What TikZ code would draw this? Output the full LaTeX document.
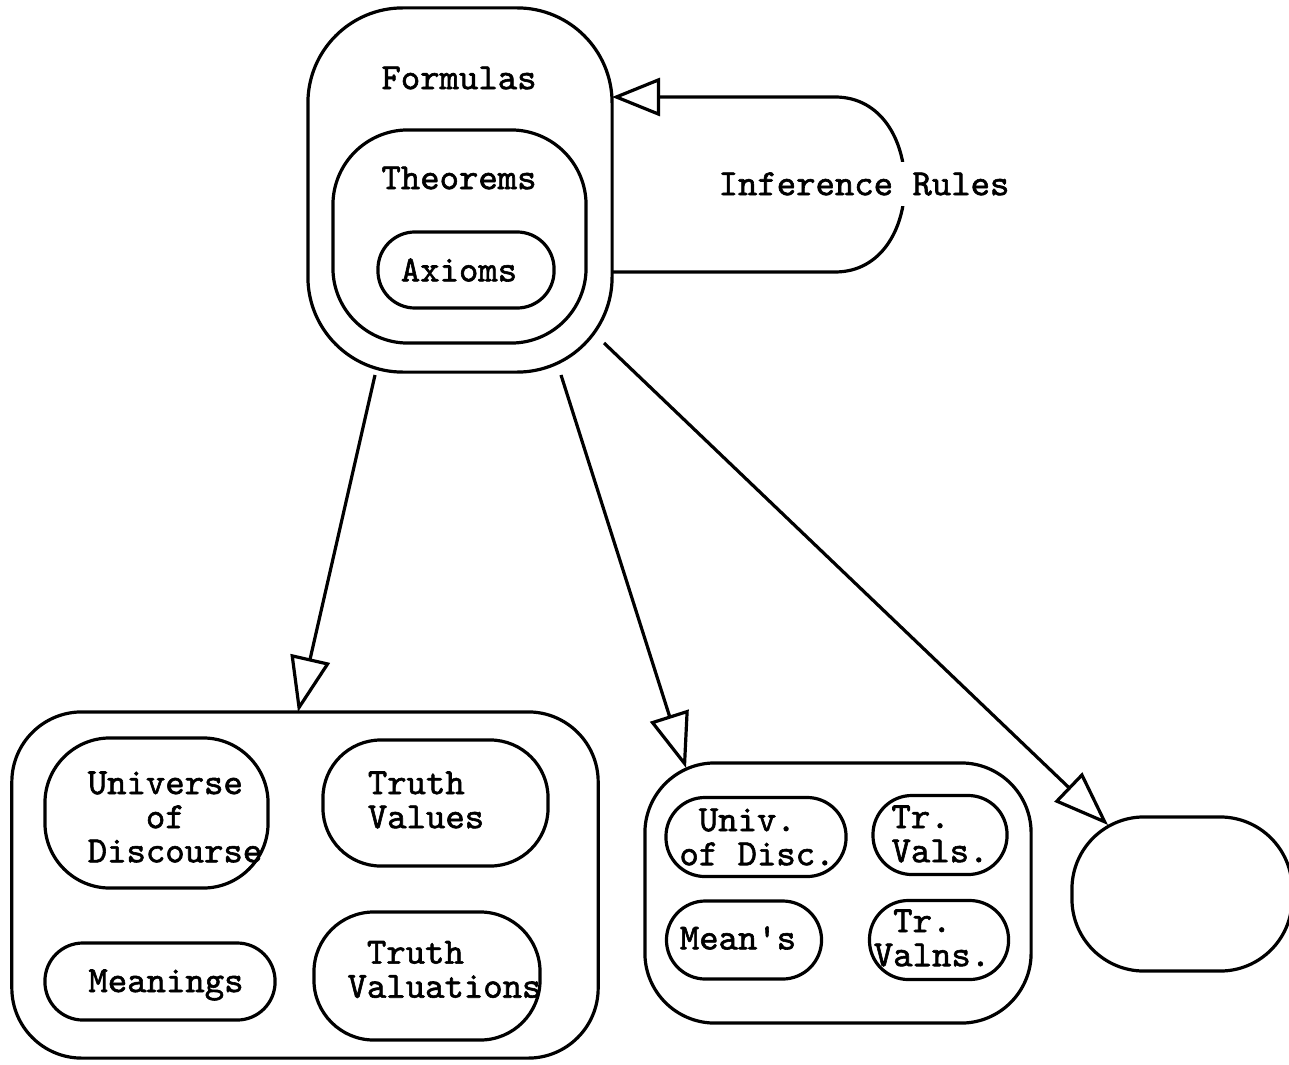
\documentclass[tikz,border=0pt]{standalone}
\usepackage{fontspec}
\newfontfamily\tw[FakeBold=1.6]{Latin Modern Mono}
\usetikzlibrary{arrows.meta}
\begin{document}
\begin{tikzpicture}[x=0.01cm, y=-0.01cm,
  box/.style={draw, line width=0.032cm, inner sep=0pt, outer sep=0pt},
  lbl/.style={font=\tw\fontsize{10.5}{9.7}\selectfont, inner sep=0pt, align=left},
  conn/.style={line width=0.032cm,
    -{Triangle[open, length=0.55cm, width=0.4cm, line width=0.032cm]}},
]
\useasboundingbox (0,0) rectangle (1289,1064);

% nested sets of formulas
\node[box, rounded corners=0.95cm, minimum width=3.04cm, minimum height=3.64cm] (F) at (460,190) {};
\node[box, rounded corners=0.75cm, minimum width=2.53cm, minimum height=2.13cm] (T) at (459.5,236.5) {};
\node[box, rounded corners=0.37cm, minimum width=1.76cm, minimum height=0.76cm] (A) at (466,270) {};
\node[lbl] (Ft) at (459,78) {Formulas};
\node[lbl] (Tt) at (459,178) {Theorems};
\node[lbl] (At) at (459,270) {Axioms};

% inference rules loop
\coordinate (irs) at (612,272);
\coordinate (ire) at (612,97);
\draw[line width=0.032cm,
  -{Triangle[open, length=0.48cm, width=0.38cm, line width=0.032cm]}]
  (irs) -- (835,272) .. controls (928,272) and (928,97) .. (835,97) -- (ire);
\node[lbl, fill=white, inner xsep=0pt, inner ysep=3pt] (IR) at (864,184) {Inference Rules};

% full interpretation
\node[box, rounded corners=0.7cm, minimum width=5.86cm, minimum height=3.46cm] (BL) at (305,885) {};
\node[box, rounded corners=0.65cm, minimum width=2.23cm, minimum height=1.5cm] (UD) at (156.5,813) {};
\node[box, rounded corners=0.58cm, minimum width=2.25cm, minimum height=1.26cm] (TV) at (435.5,803) {};
\node[box, rounded corners=0.38cm, minimum width=2.30cm, minimum height=0.77cm] (MN) at (160,981.5) {};
\node[box, rounded corners=0.6cm, minimum width=2.26cm, minimum height=1.28cm] (TN) at (427,976) {};
\node[lbl] (UDt) at (175,817) {Universe\\\hphantom{Uni}of\\Discourse};
\node[lbl] (TVt) at (426,800) {Truth\\Values};
\node[lbl] (MNt) at (166,985) {Meanings};
\node[lbl] (TNt) at (444.5,969.5) {\hphantom{V}Truth\\Valuations};

% abbreviated interpretation
\node[box, rounded corners=0.7cm, minimum width=3.86cm, minimum height=2.6cm] (MB) at (838,893) {};
\node[box, rounded corners=0.39cm, minimum width=1.8cm, minimum height=0.79cm] (ud) at (756,837) {};
\node[box, rounded corners=0.39cm, minimum width=1.34cm, minimum height=0.79cm] (tv) at (940,835) {};
\node[box, rounded corners=0.39cm, minimum width=1.55cm, minimum height=0.78cm] (mn) at (744,940) {};
\node[box, rounded corners=0.39cm, minimum width=1.39cm, minimum height=0.79cm] (tn) at (939,940) {};
\node[lbl] (udt) at (757,837) {\hphantom{o}Univ.\\of Disc.};
\node[lbl] (tvt) at (940,834) {Tr.\\Vals.};
\node[lbl] (mnt) at (738,938) {Mean's};
\node[lbl] (tnt) at (932,938) {\hphantom{V}Tr.\\Valns.};

% empty interpretation
\node[box, rounded corners=0.72cm, minimum width=2.2cm, minimum height=1.54cm] (RB) at (1182,894) {};

% interpretation maps
\coordinate (a1s) at (375,375);
\coordinate (a1e) at (298,712);
\coordinate (a2s) at (561,375);
\coordinate (a2e) at (686,768);
\coordinate (a3s) at (604,343);
\coordinate (a3e) at (1108,825);
\draw[conn] (a1s) -- (a1e);
\draw[conn] (a2s) -- (a2e);
\draw[conn] (a3s) -- (a3e);
\end{tikzpicture}
\end{document}
